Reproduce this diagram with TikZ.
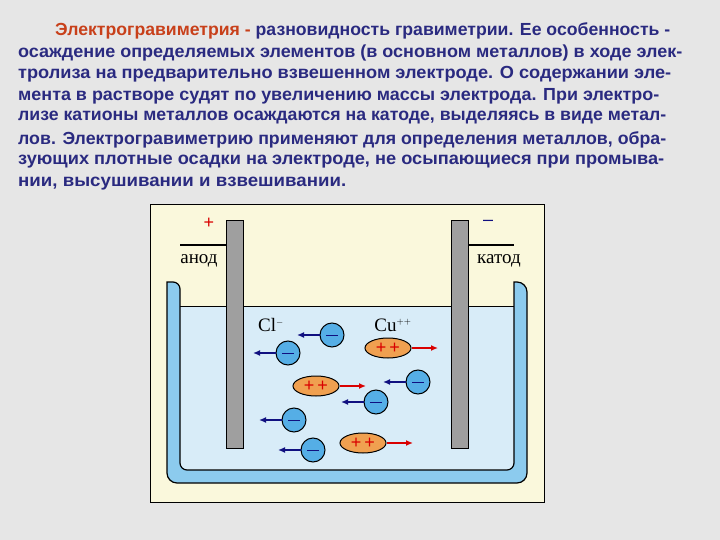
\documentclass[tikz,border=0pt]{standalone}
\usepackage{fontspec}
\setmainfont{Liberation Sans}
\newfontfamily\serifru{Liberation Serif}
\usetikzlibrary{arrows.meta,shapes.geometric}
\definecolor{bg}{HTML}{E6E6E6}
\definecolor{cream}{HTML}{FAF8DC}
\definecolor{liq}{HTML}{D8ECF8}
\definecolor{wall}{HTML}{8CCBEE}
\definecolor{txt}{HTML}{2A2A80}
\definecolor{hl}{HTML}{C8401A}
\definecolor{ion}{HTML}{55AEE6}
\definecolor{cat}{HTML}{F0A050}
\definecolor{darr}{HTML}{101080}
\newcommand{\fitw}[2]{\resizebox{#1pt}{\height}{#2}}
\tikzset{
 line/.style={anchor=west,font=\fontsize{17.5}{19}\selectfont\bfseries,text=txt,inner sep=0},
 lbl/.style={font=\serifru\fontsize{19}{20}\selectfont},
 anion/.style={circle,draw=black,line width=1pt,fill=ion,minimum size=24pt,inner sep=0},
 cation/.style={ellipse,draw=black,line width=1pt,fill=cat,minimum width=46pt,minimum height=20pt,inner sep=0},
 larr/.style={-{Latex[length=7pt,width=6pt]},darr,line width=1.3pt},
 rarr/.style={-{Latex[length=7pt,width=6pt]},red!85!black,line width=1.3pt},
}
\begin{document}
\begin{tikzpicture}[x=1pt,y=-1pt]
\fill[bg] (0,0) rectangle (720,540);
\useasboundingbox (0,0) rectangle (720,540);
% text
\node[line] (l1) at (55,31) {\fitw{615}{\textcolor{hl}{Электрогравиметрия -} разновидность гравиметрии. Ее особенность -}};
\node[line] (l2) at (18,53) {\fitw{664}{осаждение определяемых элементов (в основном металлов) в ходе элек-}};
\node[line] (l3) at (18,74) {\fitw{653}{тролиза на предварительно взвешенном электроде. О содержании эле-}};
\node[line] (l4) at (18,96) {\fitw{641}{мента в растворе судят по увеличению массы электрода. При электро-}};
\node[line] (l5) at (18,118) {\fitw{648}{лизе катионы металлов осаждаются на катоде, выделяясь в виде метал-}};
\node[line] (l6) at (18,140) {\fitw{648}{лов. Электрогравиметрию применяют для определения металлов, обра-}};
\node[line] (l7) at (18,162) {\fitw{646}{зующих плотные осадки на электроде, не осыпающиеся при промыва-}};
\node[line] (l8) at (18,184) {\fitw{328}{нии, высушивании и взвешивании.}};
% frame
\draw[fill=cream,line width=1pt] (150,205) rectangle (544,502);
% liquid
\fill[liq] (180,306) rectangle (514,470);
\draw[line width=0.6pt] (180,306) -- (514,306);
% vessel
\draw[fill=wall,line width=1.2pt,rounded corners=10pt] (167,282) -- (167,483) -- (527,483) -- (527,282)[sharp corners] -- (514,282) [rounded corners=7pt] -- (514,470) -- (180,470) -- (180,282) [sharp corners] -- cycle;
% electrodes
\draw[fill=gray!75,line width=1pt] (226,221) rectangle (243,448);
\draw[fill=gray!75,line width=1pt] (451,221) rectangle (468,448);
\draw[line width=2.5pt] (180,245) -- (226,245);
\draw[line width=2.5pt] (468,245) -- (514,245);
\node[lbl] (an) at (199,261) {анод};
\node[lbl] (ka) at (499,261) {катод};
\node[text=red!85!black,font=\fontsize{18}{18}\selectfont] (pl) at (209,223) {+};
\node[text=darr,font=\fontsize{18}{18}\selectfont] (mi) at (488,223) {–};
\node[lbl] (cl) at (271,325) {Cl$^{\scriptscriptstyle -}$};
\node[lbl] (cu) at (393,325) {Cu$^{\scriptscriptstyle ++}$};
% anions
\foreach \n/\x/\y in {a1/332/335,a2/288/353,a3/418/382,a4/376/402,a5/294/420,a6/313/450}{
 \node[anion] (\n) at (\x,\y) {};
 \draw[line width=1pt,darr] (\x-6,\y) -- (\x+6,\y);
 \coordinate (\n t) at (\x-35,\y);
 \draw[larr] (\n.west) -- (\n t);
}
% cations
\foreach \n/\x/\y in {c1/388/348,c2/316/386,c3/363/443}{
 \node[cation,font=\fontsize{18}{18}\selectfont,text=red!85!black] (\n) at (\x,\y) {+\,+};
 \coordinate (\n t) at (\x+50,\y);
 \draw[rarr] (\n.east) -- (\n t);
}
\end{tikzpicture}
\end{document}
